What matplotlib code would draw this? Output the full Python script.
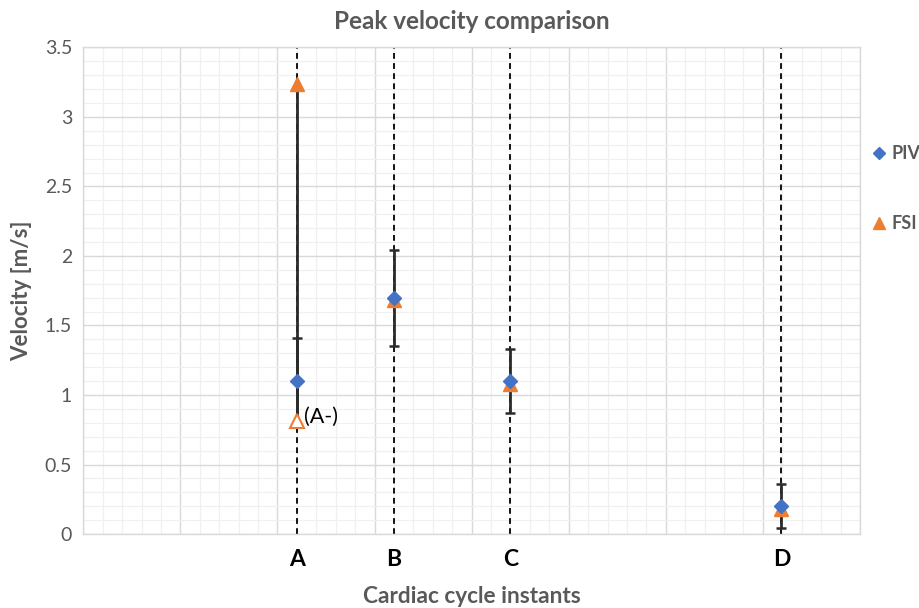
import matplotlib
matplotlib.use('Agg')
import matplotlib.pyplot as plt
from matplotlib.ticker import MultipleLocator, FuncFormatter, NullFormatter
from matplotlib.lines import Line2D

# ---- data ----
instants = ['A', 'B', 'C', 'D']
instant_x = [2.2, 3.2, 4.4, 7.19]
piv = [1.10, 1.70, 1.10, 0.20]
piv_err = [0.31, 0.345, 0.23, 0.16]
fsi = [3.24, 1.68, 1.08, 0.18]
fsi_err_low = [2.43, 0.0, 0.0, 0.0]
fsi_a_minus = 0.81
a_minus_label = '(A-)'
y_ticks = [0, 0.5, 1, 1.5, 2, 2.5, 3, 3.5]

FONT = 'Lato'
GREY = '#595959'
BLUE = '#4472C4'
ORANGE = '#ED7D31'

plt.rcParams['font.family'] = [FONT, 'DejaVu Sans']

fig = plt.figure(figsize=(9.19, 6.08), dpi=100)
ax = fig.add_axes([0.0906, 0.1217, 0.8452, 0.8002])

ax.set_xlim(0, 8)
ax.set_ylim(0, 3.5)

# grid
ax.xaxis.set_major_locator(MultipleLocator(1))
ax.xaxis.set_minor_locator(MultipleLocator(0.2))
ax.yaxis.set_major_locator(MultipleLocator(0.5))
ax.yaxis.set_minor_locator(MultipleLocator(0.1))
ax.grid(which='major', color='#D9D9D9', lw=1.0, zorder=0)
ax.grid(which='minor', color='#F0F0F0', lw=0.9, zorder=0)
ax.set_axisbelow(True)
for s in ax.spines.values():
    s.set_color('#D9D9D9')
    s.set_linewidth(1.0)

ax.xaxis.set_major_formatter(NullFormatter())
ax.tick_params(axis='both', which='both', length=0)
ax.yaxis.set_major_formatter(FuncFormatter(lambda v, p: ('%g' % v)))
ax.set_yticks(y_ticks)
ax.tick_params(axis='y', labelsize=14, labelcolor=GREY, pad=8)

# dashed instant lines
for xv in instant_x:
    ax.axvline(xv, color='black', ls=(0, (3.2, 2.4)), lw=1.3, zorder=2)

# error bars
ax.errorbar(instant_x, piv, yerr=piv_err, fmt='none', ecolor='#2b2b2b',
            elinewidth=2.0, capsize=3.8, capthick=1.8, zorder=3)
ax.errorbar(instant_x, fsi, yerr=[fsi_err_low, [0] * len(fsi)], fmt='none',
            ecolor='#2b2b2b', elinewidth=2.0, capsize=0, zorder=3)

# markers
ax.plot(instant_x, fsi, ls='none', marker='^', ms=10, color=ORANGE,
        mec=ORANGE, zorder=4, label='FSI')
ax.plot(instant_x, piv, ls='none', marker='D', ms=7.5, color=BLUE,
        mec=BLUE, zorder=5, label='PIV')
ax.plot([instant_x[0]], [fsi_a_minus], ls='none', marker='^', ms=10,
        mfc='white', mec=ORANGE, mew=1.5, zorder=4)
ax.text(instant_x[0] + 0.07, fsi_a_minus + 0.03, a_minus_label,
        fontsize=15.5, color='black', va='center', ha='left', zorder=6)

# instant labels
for xv, lab in zip(instant_x, instants):
    ax.text(xv, -0.18, lab, transform=ax.transData, ha='center', va='center',
            fontsize=16.5, fontweight='bold', color='black', clip_on=False)

ax.set_title('Peak velocity comparison', fontsize=17.5, fontweight='bold',
             color=GREY, pad=13)
ax.set_xlabel('Cardiac cycle instants', fontsize=16.3, fontweight='bold',
              color=GREY, labelpad=34)
ax.set_ylabel('Velocity [m/s]', fontsize=16, fontweight='bold',
              color=GREY, labelpad=9)

handles = [Line2D([], [], ls='none', marker='D', ms=6.5, color=BLUE),
           Line2D([], [], ls='none', marker='^', ms=9, color=ORANGE)]
leg = ax.legend(handles, ['PIV', 'FSI'], loc='upper left',
                bbox_to_anchor=(1.004, 0.822), frameon=False,
                handlelength=0.6, handletextpad=0.35, labelspacing=2.95,
                borderaxespad=0.2,
                prop={'size': 13, 'weight': 'bold'})
for t in leg.get_texts():
    t.set_color(GREY)

fig.savefig('out.png', dpi=100)
